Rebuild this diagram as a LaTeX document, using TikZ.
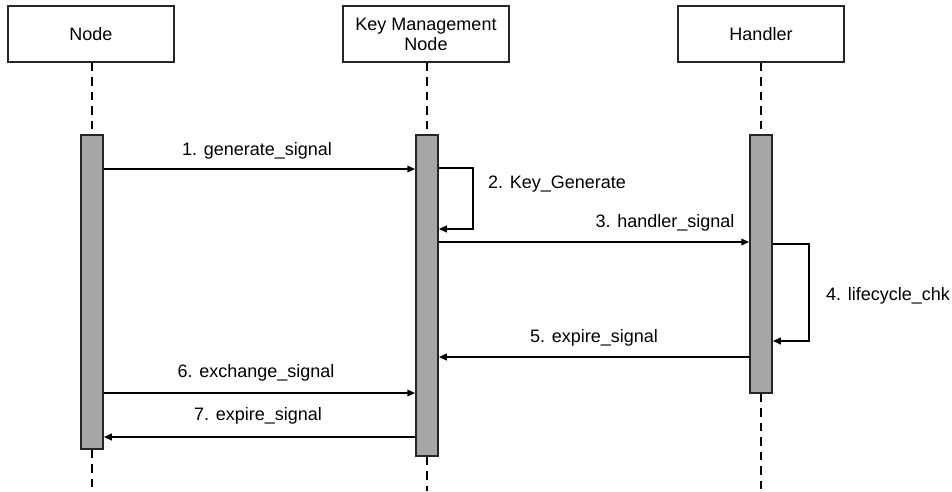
\documentclass[tikz,border=0pt]{standalone}
\usepackage{fontspec}
\setmainfont{Liberation Sans}
\usetikzlibrary{arrows.meta}

\begin{document}
\begin{tikzpicture}[x=1pt,y=-1pt,
  every node/.style={font=\fontsize{18}{20}\selectfont, text=black},
  actor/.style={draw=black!85, line width=1.2pt, fill=white, minimum width=166pt,
    minimum height=56pt, align=center, inner sep=0pt},
  actbar/.style={draw=black!85, line width=1.5pt, fill=black!35, minimum width=22pt,
    inner sep=0pt},
  lifeline/.style={line width=1.8pt, dash pattern=on 8.5pt off 6pt},
  msg/.style={line width=2pt, -{Triangle[length=8pt,width=6.5pt]}},
  lbl/.style={inner sep=0pt}]
  \useasboundingbox (0,0) rectangle (952,491);

  % participants
  \node[actor] (pn) at (91,34) {Node};
  \node[actor] (pk) at (426,34) {Key Management\\Node};
  \node[actor] (ph) at (761,34) {Handler};

  % lifeline ends
  \coordinate (en) at (92,491);
  \coordinate (ek) at (427,491);
  \coordinate (eh) at (761,491);

  % activation bars
  \node[actbar, minimum height=314pt] (bn) at (92,292) {};
  \node[actbar, minimum height=321pt] (bk) at (427,295.5) {};
  \node[actbar, minimum height=258pt] (bh) at (761,264) {};

  % dashed lifelines
  \draw[lifeline] (pn.south -| bn) -- (bn.north);
  \draw[lifeline] (bn.south) -- (en);
  \draw[lifeline] (pk.south -| bk) -- (bk.north);
  \draw[lifeline] (bk.south) -- (ek);
  \draw[lifeline] (ph.south -| bh) -- (bh.north);
  \draw[lifeline] (bh.south) -- (eh);

  % message rows
  \coordinate (m1) at (0,169);
  \coordinate (m2a) at (473,168);
  \coordinate (m2b) at (473,229);
  \coordinate (m3) at (0,242);
  \coordinate (m4a) at (809,244);
  \coordinate (m4b) at (809,341);
  \coordinate (m5) at (0,357);
  \coordinate (m6) at (0,393);
  \coordinate (m7) at (0,437);

  % messages
  \draw[msg] (bn.east |- m1) -- (bk.west |- m1);
  \node[lbl] (l1) at (257,151) {1. generate\_signal};

  \draw[msg] (bk.east |- m2a) -- (m2a) -- (m2b) -- (bk.east |- m2b);
  \node[lbl, anchor=west] (l2) at (488,184) {2. Key\_Generate};

  \draw[msg] (bk.east |- m3) -- (bh.west |- m3);
  \node[lbl] (l3) at (665,223) {3. handler\_signal};

  \draw[msg] (bh.east |- m4a) -- (m4a) -- (m4b) -- (bh.east |- m4b);
  \node[lbl, anchor=west] (l4) at (826,296) {4. lifecycle\_chk};

  \draw[msg] (bh.west |- m5) -- (bk.east |- m5);
  \node[lbl] (l5) at (594,338) {5. expire\_signal};

  \draw[msg] (bn.east |- m6) -- (bk.west |- m6);
  \node[lbl] (l6) at (256,373) {6. exchange\_signal};

  \draw[msg] (bk.west |- m7) -- (bn.east |- m7);
  \node[lbl] (l7) at (258,416) {7. expire\_signal};
\end{tikzpicture}
\end{document}
